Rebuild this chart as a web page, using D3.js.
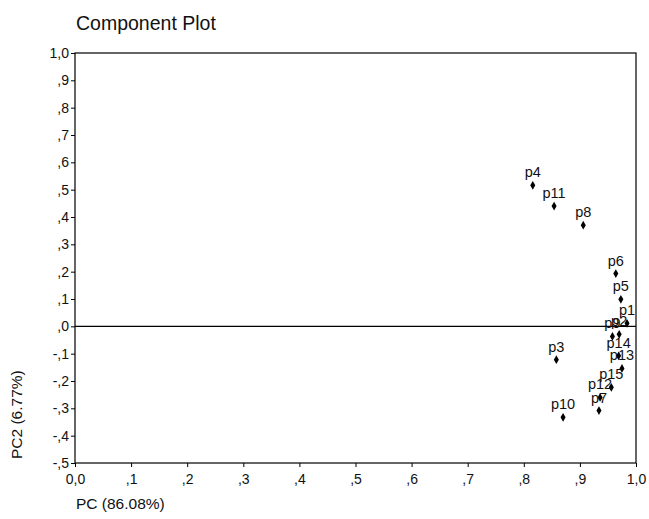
<!DOCTYPE html>
<html><head><meta charset="utf-8">
<script src="https://cdn.jsdelivr.net/npm/d3@7/dist/d3.min.js"></script>
<style>body{margin:0;background:#fff}svg{display:block}text{font-family:Arial,"Liberation Sans",sans-serif;fill:#111}</style>
</head><body>
<script>
const labels = ["p1","p2","p3","p4","p5","p6","p7","p8","p9","p10","p11","p12","p13","p14","p15"];
const pc1 = [0.984,0.970,0.858,0.816,0.973,0.964,0.934,0.906,0.958,0.870,0.854,0.936,0.975,0.969,0.956];
const pc2 = [0.011,-0.029,-0.122,0.516,0.099,0.193,-0.308,0.370,-0.037,-0.333,0.440,-0.260,-0.154,-0.108,-0.223];
const xTicks = [0,0.1,0.2,0.3,0.4,0.5,0.6,0.7,0.8,0.9,1.0];
const yTicks = [-0.5,-0.4,-0.3,-0.2,-0.1,0,0.1,0.2,0.3,0.4,0.5,0.6,0.7,0.8,0.9,1.0];
const title = "Component Plot", xTitle = "PC (86.08%)", yTitle = "PC2 (6.77%)";

const W = 649, H = 519;
const L = 75, R = 636, T = 53, B = 463;
const svg = d3.select("body").append("svg").attr("width", W).attr("height", H);
const x = d3.scaleLinear().domain([0,1]).range([L,R]);
const y = d3.scaleLinear().domain([-0.5,1]).range([B,T]);
const fmt = v => {
  const s = d3.format(".1f")(Math.abs(v)).replace(".", ",");
  const t = Math.abs(v) < 1 ? s.replace(/^0/, "") : s;
  return (v < -1e-9 ? "-" : "") + (Math.abs(v) < 1e-9 ? ",0" : t);
};
const fmtX = v => Math.abs(v) < 1e-9 ? "0,0" : fmt(v);

svg.append("text").attr("x", 76).attr("y", 30).attr("font-size", 19.5).text(title);

const gx = svg.append("g").attr("transform", `translate(0,${B})`)
  .call(d3.axisBottom(x).tickValues(xTicks).tickFormat(fmtX).tickSize(4).tickSizeOuter(0));
const gy = svg.append("g").attr("transform", `translate(${L},0)`)
  .call(d3.axisLeft(y).tickValues(yTicks).tickFormat(fmt).tickSize(4).tickSizeOuter(0));
[gx, gy].forEach(g => {
  g.select(".domain").remove();
  g.selectAll("line").attr("stroke", "#000");
  g.selectAll("text").attr("font-size", 14).style("font-family", "Arial, 'Liberation Sans', sans-serif").attr("fill", "#111");
});
gx.selectAll("text").attr("dy", "1.0em");
gy.selectAll("text").attr("x", -6);

// frame
svg.append("rect").attr("x", L).attr("y", T).attr("width", R - L).attr("height", B - T)
  .attr("fill", "none").attr("stroke", "#000").attr("stroke-width", 1.2);
// zero line
svg.append("line").attr("x1", L).attr("x2", R).attr("y1", y(0)).attr("y2", y(0))
  .attr("stroke", "#000").attr("stroke-width", 1.3);

const pts = labels.map((l, i) => ({l, a: pc1[i], b: pc2[i]}));
const g = svg.append("g");
g.selectAll("path").data(pts).join("path")
  .attr("transform", d => `translate(${x(d.a)},${y(d.b)})`)
  .attr("d", d3.symbol().type(d3.symbolDiamond).size(22)).attr("fill", "#000");
g.selectAll("text").data(pts).join("text")
  .attr("x", d => x(d.a)).attr("y", d => y(d.b) - 8)
  .attr("text-anchor", "middle").attr("font-size", 14.5).text(d => d.l);

svg.append("text").attr("x", 76).attr("y", 509).attr("font-size", 15.5).text(xTitle);
svg.append("text").attr("transform", `translate(22,${B - 4}) rotate(-90)`).attr("font-size", 15.5).text(yTitle);
</script>
</body></html>
